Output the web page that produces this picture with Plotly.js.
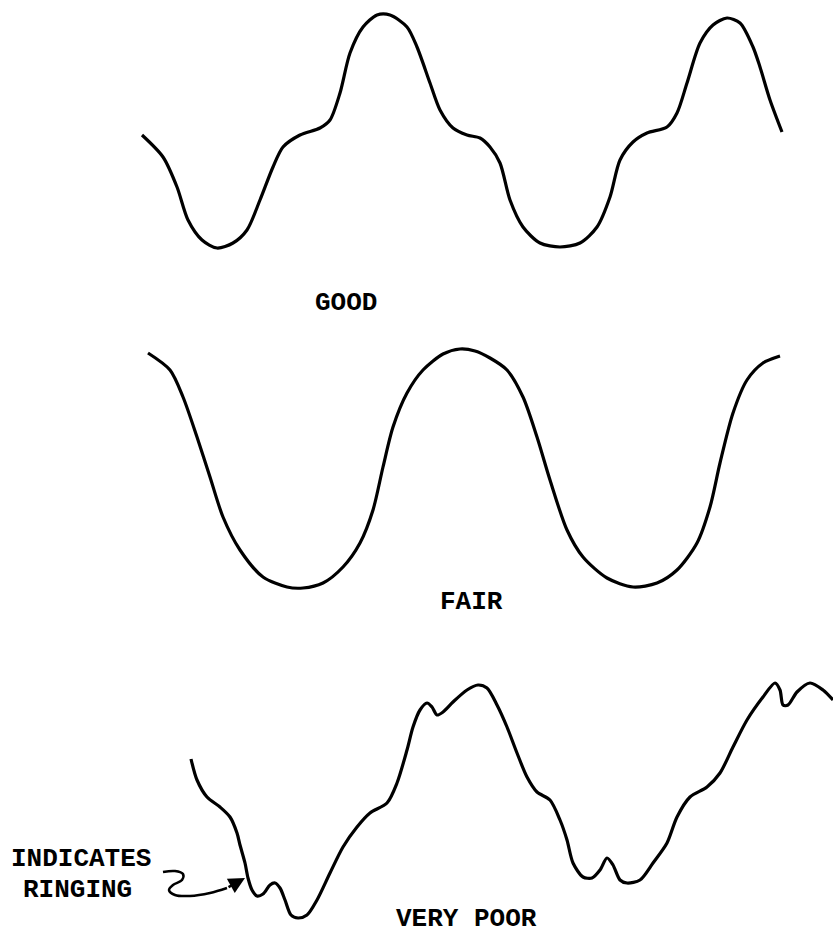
<!DOCTYPE html>
<html>
<head>
<meta charset="utf-8">
<script src="https://cdn.plot.ly/plotly-3.0.1.min.js"></script>
<style>html,body{margin:0;padding:0;background:#fff;}#chart{width:833px;height:936px;}</style>
</head>
<body>
<div id="chart"></div>
<script>
// Traced waveform points (page coordinates, y downward)
const goodX = [142,163,177,188,202,217,233,247,260,273,283,300,320,330,340,350,363,377,390,407,417,430,440,453,467,480,490,500,510,523,540,560,580,597,610,620,633,647,667,677,687,700,713,727,740,753,760,770,782];
const goodY = [135,157,187,220,240,248,243,230,200,167,147,135,128,120,93,53,27,15,15,27,47,83,110,128,135,138,147,163,200,227,243,247,243,227,197,160,142,133,127,113,83,43,25,18,23,47,67,100,132];

const fairX = [148,170,183,197,210,223,240,263,287,303,323,343,360,373,383,393,407,423,443,460,475,490,507,523,537,550,567,583,607,633,657,677,697,710,720,733,747,763,780];
const fairY = [353,370,397,437,477,517,550,577,587,588,583,567,543,510,467,427,393,370,354,349,351,358,370,397,437,480,530,557,578,587,583,570,543,507,463,413,380,363,356];

const poorX = [191,197,207,220,230,237,240,245,248,252,257,263,270,275,280,285,291,298,307,317,330,343,357,370,387,397,407,413,420,427,432,437,443,453,467,478,487,497,507,517,527,537,550,560,567,573,583,592,600,607,613,620,627,640,653,667,677,690,707,720,733,747,763,775,780,783,788,797,810,823,833];
const poorY = [759,780,797,807,817,833,845,863,878,890,896,894,885,883,888,900,915,918,915,900,873,847,827,813,803,783,750,727,710,703,707,715,712,702,690,685,688,705,727,753,777,792,800,820,840,863,877,878,870,858,865,880,883,880,863,843,817,797,787,773,747,720,697,683,690,705,705,692,683,690,700];

const squiggleX = [163,175,183,182,173,169,175,190,210,227];
const squiggleY = [872,871,874,880,885,890,895,896,893,888];

const labelText = ["GOOD", "FAIR", "INDICATES", "RINGING", "VERY POOR"];
const labelX = [346, 471, 81, 77, 466];
const labelY = [303, 602, 859, 890, 935];
const labelAnchor = ["middle", "middle", "middle", "middle", "bottom"];

const arrowTip = [245, 878];
const arrowTail = [227, 888];

const lineStyle = {color: '#000', width: 3.2, shape: 'spline', smoothing: 0.8};
const traces = [
  {x: goodX, y: goodY, mode: 'lines', line: lineStyle, hoverinfo: 'skip'},
  {x: fairX, y: fairY, mode: 'lines', line: lineStyle, hoverinfo: 'skip'},
  {x: poorX, y: poorY, mode: 'lines', line: lineStyle, hoverinfo: 'skip'},
  {x: squiggleX, y: squiggleY, mode: 'lines', line: {color: '#000', width: 2.5, shape: 'spline', smoothing: 1}, hoverinfo: 'skip'}
];

const annotations = labelText.map((t, i) => ({
  x: labelX[i], y: labelY[i], xref: 'x', yref: 'y', text: t, showarrow: false,
  xanchor: 'center', yanchor: labelAnchor[i], borderpad: 0,
  font: {family: 'Liberation Mono, Courier New, monospace', size: 26, color: '#000', weight: 'bold'}
}));
annotations.push({
  x: arrowTip[0], y: arrowTip[1], ax: arrowTail[0], ay: arrowTail[1],
  xref: 'x', yref: 'y', axref: 'x', ayref: 'y', text: '', showarrow: true,
  arrowhead: 2, arrowsize: 1.3, arrowwidth: 2.5, arrowcolor: '#000', standoff: 0
});

const layout = {
  width: 833, height: 936,
  margin: {l: 0, r: 0, t: 0, b: 0},
  paper_bgcolor: '#fff', plot_bgcolor: '#fff',
  showlegend: false,
  xaxis: {range: [0, 833], visible: false, fixedrange: true},
  yaxis: {range: [936, 0], visible: false, fixedrange: true},
  annotations: annotations
};

Plotly.newPlot('chart', traces, layout, {staticPlot: true});
</script>
</body>
</html>
